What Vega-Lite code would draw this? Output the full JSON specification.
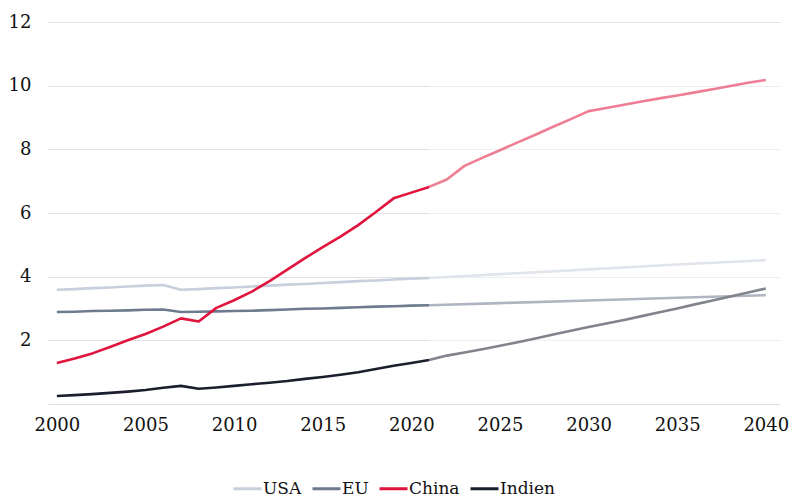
{
  "$schema": "https://vega.github.io/schema/vega-lite/v6.json",
  "width": 732,
  "height": 382,
  "autosize": {"type": "none"},
  "padding": {"left": 48, "top": 22, "right": 14, "bottom": 94},
  "background": "white",
  "config": {
    "view": {"stroke": null},
    "font": "DejaVu Serif",
    "axis": {"labelFont": "DejaVu Serif", "labelFontSize": 18, "labelColor": "#111111", "ticks": false, "title": null},
    "legend": {"labelFont": "DejaVu Serif", "labelFontSize": 17, "labelColor": "#111111"}
  },
  "datasets": {
    "series": [
      {"year": 2000, "country": "USA", "value": 3.59}, {"year": 2001, "country": "USA", "value": 3.61}, {"year": 2002, "country": "USA", "value": 3.64}, {"year": 2003, "country": "USA", "value": 3.66}, {"year": 2004, "country": "USA", "value": 3.69}, {"year": 2005, "country": "USA", "value": 3.72}, {"year": 2006, "country": "USA", "value": 3.74}, {"year": 2007, "country": "USA", "value": 3.59}, {"year": 2008, "country": "USA", "value": 3.61}, {"year": 2009, "country": "USA", "value": 3.64}, {"year": 2010, "country": "USA", "value": 3.66}, {"year": 2011, "country": "USA", "value": 3.69}, {"year": 2012, "country": "USA", "value": 3.72}, {"year": 2013, "country": "USA", "value": 3.75}, {"year": 2014, "country": "USA", "value": 3.77}, {"year": 2015, "country": "USA", "value": 3.8}, {"year": 2016, "country": "USA", "value": 3.83}, {"year": 2017, "country": "USA", "value": 3.86}, {"year": 2018, "country": "USA", "value": 3.88}, {"year": 2019, "country": "USA", "value": 3.91}, {"year": 2020, "country": "USA", "value": 3.94}, {"year": 2021, "country": "USA", "value": 3.96}, {"year": 2025, "country": "USA", "value": 4.08}, {"year": 2030, "country": "USA", "value": 4.23}, {"year": 2035, "country": "USA", "value": 4.38}, {"year": 2040, "country": "USA", "value": 4.52},
      {"year": 2000, "country": "EU", "value": 2.89}, {"year": 2001, "country": "EU", "value": 2.9}, {"year": 2002, "country": "EU", "value": 2.92}, {"year": 2003, "country": "EU", "value": 2.93}, {"year": 2004, "country": "EU", "value": 2.94}, {"year": 2005, "country": "EU", "value": 2.96}, {"year": 2006, "country": "EU", "value": 2.97}, {"year": 2007, "country": "EU", "value": 2.89}, {"year": 2008, "country": "EU", "value": 2.9}, {"year": 2009, "country": "EU", "value": 2.91}, {"year": 2010, "country": "EU", "value": 2.92}, {"year": 2011, "country": "EU", "value": 2.93}, {"year": 2012, "country": "EU", "value": 2.95}, {"year": 2013, "country": "EU", "value": 2.97}, {"year": 2014, "country": "EU", "value": 2.99}, {"year": 2015, "country": "EU", "value": 3.0}, {"year": 2016, "country": "EU", "value": 3.02}, {"year": 2017, "country": "EU", "value": 3.04}, {"year": 2018, "country": "EU", "value": 3.06}, {"year": 2019, "country": "EU", "value": 3.07}, {"year": 2020, "country": "EU", "value": 3.09}, {"year": 2021, "country": "EU", "value": 3.1}, {"year": 2025, "country": "EU", "value": 3.17}, {"year": 2030, "country": "EU", "value": 3.25}, {"year": 2035, "country": "EU", "value": 3.34}, {"year": 2040, "country": "EU", "value": 3.42},
      {"year": 2000, "country": "China", "value": 1.29}, {"year": 2001, "country": "China", "value": 1.43}, {"year": 2002, "country": "China", "value": 1.59}, {"year": 2003, "country": "China", "value": 1.79}, {"year": 2004, "country": "China", "value": 2.0}, {"year": 2005, "country": "China", "value": 2.2}, {"year": 2006, "country": "China", "value": 2.43}, {"year": 2007, "country": "China", "value": 2.69}, {"year": 2008, "country": "China", "value": 2.59}, {"year": 2009, "country": "China", "value": 3.02}, {"year": 2010, "country": "China", "value": 3.26}, {"year": 2011, "country": "China", "value": 3.53}, {"year": 2012, "country": "China", "value": 3.86}, {"year": 2013, "country": "China", "value": 4.22}, {"year": 2014, "country": "China", "value": 4.58}, {"year": 2015, "country": "China", "value": 4.93}, {"year": 2016, "country": "China", "value": 5.26}, {"year": 2017, "country": "China", "value": 5.62}, {"year": 2018, "country": "China", "value": 6.03}, {"year": 2019, "country": "China", "value": 6.46}, {"year": 2020, "country": "China", "value": 6.64}, {"year": 2021, "country": "China", "value": 6.82}, {"year": 2022, "country": "China", "value": 7.05}, {"year": 2023, "country": "China", "value": 7.48}, {"year": 2024, "country": "China", "value": 7.73}, {"year": 2025, "country": "China", "value": 7.97}, {"year": 2026, "country": "China", "value": 8.22}, {"year": 2027, "country": "China", "value": 8.46}, {"year": 2028, "country": "China", "value": 8.71}, {"year": 2029, "country": "China", "value": 8.95}, {"year": 2030, "country": "China", "value": 9.2}, {"year": 2031, "country": "China", "value": 9.3}, {"year": 2032, "country": "China", "value": 9.4}, {"year": 2033, "country": "China", "value": 9.5}, {"year": 2034, "country": "China", "value": 9.6}, {"year": 2035, "country": "China", "value": 9.69}, {"year": 2036, "country": "China", "value": 9.79}, {"year": 2037, "country": "China", "value": 9.89}, {"year": 2038, "country": "China", "value": 9.99}, {"year": 2039, "country": "China", "value": 10.09}, {"year": 2040, "country": "China", "value": 10.18},
      {"year": 2000, "country": "Indien", "value": 0.25}, {"year": 2001, "country": "Indien", "value": 0.28}, {"year": 2002, "country": "Indien", "value": 0.31}, {"year": 2003, "country": "Indien", "value": 0.35}, {"year": 2004, "country": "Indien", "value": 0.39}, {"year": 2005, "country": "Indien", "value": 0.44}, {"year": 2006, "country": "Indien", "value": 0.51}, {"year": 2007, "country": "Indien", "value": 0.57}, {"year": 2008, "country": "Indien", "value": 0.48}, {"year": 2009, "country": "Indien", "value": 0.52}, {"year": 2010, "country": "Indien", "value": 0.57}, {"year": 2011, "country": "Indien", "value": 0.62}, {"year": 2012, "country": "Indien", "value": 0.67}, {"year": 2013, "country": "Indien", "value": 0.72}, {"year": 2014, "country": "Indien", "value": 0.79}, {"year": 2015, "country": "Indien", "value": 0.85}, {"year": 2016, "country": "Indien", "value": 0.92}, {"year": 2017, "country": "Indien", "value": 1.0}, {"year": 2018, "country": "Indien", "value": 1.1}, {"year": 2019, "country": "Indien", "value": 1.2}, {"year": 2020, "country": "Indien", "value": 1.29}, {"year": 2021, "country": "Indien", "value": 1.38}, {"year": 2022, "country": "Indien", "value": 1.52}, {"year": 2023, "country": "Indien", "value": 1.62}, {"year": 2024, "country": "Indien", "value": 1.72}, {"year": 2025, "country": "Indien", "value": 1.83}, {"year": 2026, "country": "Indien", "value": 1.94}, {"year": 2027, "country": "Indien", "value": 2.06}, {"year": 2028, "country": "Indien", "value": 2.18}, {"year": 2029, "country": "Indien", "value": 2.3}, {"year": 2030, "country": "Indien", "value": 2.42}, {"year": 2031, "country": "Indien", "value": 2.53}, {"year": 2032, "country": "Indien", "value": 2.64}, {"year": 2033, "country": "Indien", "value": 2.76}, {"year": 2034, "country": "Indien", "value": 2.88}, {"year": 2035, "country": "Indien", "value": 3.0}, {"year": 2036, "country": "Indien", "value": 3.13}, {"year": 2037, "country": "Indien", "value": 3.25}, {"year": 2038, "country": "Indien", "value": 3.38}, {"year": 2039, "country": "Indien", "value": 3.5}, {"year": 2040, "country": "Indien", "value": 3.63}
    ],
    "projection": [{"start": 2021, "end": 2041, "low": 0.03, "high": 11.97}]
  },
  "layer": [
    {
      "data": {"name": "series"},
      "mark": {"type": "line", "strokeWidth": 2.6, "strokeJoin": "round"},
      "encoding": {
        "x": {"field": "year", "type": "quantitative", "scale": {"domain": [1999.5, 2040.8], "nice": false, "zero": false},
              "axis": {"values": [2000, 2005, 2010, 2015, 2020, 2025, 2030, 2035, 2040], "format": "d", "grid": false, "domainColor": "#dedede", "domainWidth": 1.2, "labelPadding": 12, "labelFlush": false}},
        "y": {"field": "value", "type": "quantitative", "scale": {"domain": [0, 12], "nice": false},
              "axis": {"values": [2, 4, 6, 8, 10, 12], "grid": true, "gridColor": "#e2e2e2", "gridWidth": 1.2, "domain": false, "labelPadding": 17}},
        "color": {"field": "country", "type": "nominal", "title": null,
                  "scale": {"domain": ["USA", "EU", "China", "Indien"], "range": ["#c7d0dc", "#6e7b8f", "#e0143c", "#1b1f2d"]},
                  "legend": {"orient": "none", "legendX": 184, "legendY": 451, "direction": "horizontal", "symbolType": "stroke", "symbolSize": 784, "symbolStrokeWidth": 3, "labelOffset": 0, "columnPadding": 4}}
      }
    },
    {
      "data": {"name": "projection"},
      "mark": {"type": "rect", "color": "white", "opacity": 0.45, "clip": true},
      "encoding": {
        "x": {"field": "start", "type": "quantitative"},
        "x2": {"field": "end"},
        "y": {"field": "low", "type": "quantitative"},
        "y2": {"field": "high"}
      }
    }
  ]
}
